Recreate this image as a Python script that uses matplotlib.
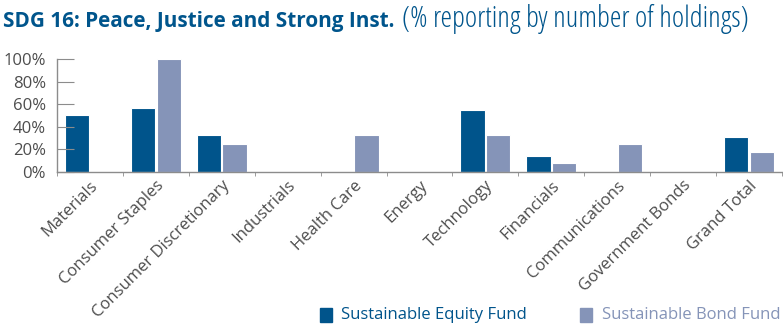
import numpy as np
import matplotlib
matplotlib.use('Agg')
from matplotlib import pyplot as plt
from matplotlib.ticker import PercentFormatter

sectors = ['Materials', 'Consumer Staples', 'Consumer Discretionary', 'Industrials',
           'Health Care', 'Energy', 'Technology', 'Financials', 'Communications',
           'Government Bonds', 'Grand Total']
equity = [50, 57, 33, 0, 0, 0, 55, 14, 0, 0, 31]
bond = [0, 100, 25, 0, 33, 0, 33, 8, 25, 0, 18]
yticks = [0, 20, 40, 60, 80, 100]

c_equity = '#00548b'
c_bond = '#8594b8'
c_text = '#4d4d4d'
c_axis = '#8c8c8c'

plt.rcParams['font.family'] = ['Open Sans', 'DejaVu Sans']

fig = plt.figure(figsize=(7.83, 3.26), dpi=100)
ax = fig.add_axes([57 / 783, 1 - 172 / 326, 725 / 783, 113 / 326])

x = np.arange(len(sectors))
w = 0.37
ax.bar(x - 0.195, equity, w, color=c_equity, edgecolor='white', linewidth=0.8, clip_on=False)
ax.bar(x + 0.195, bond, w, color=c_bond, edgecolor='white', linewidth=0.8, clip_on=False)

ax.set_xlim(-0.5, len(sectors) - 0.5)
ax.set_ylim(0, 100)
ax.set_yticks(yticks)
ax.yaxis.set_major_formatter(PercentFormatter(decimals=0))
ax.tick_params(axis='y', direction='in', length=12, width=0.8, color=c_axis,
               labelsize=12, labelcolor=c_text, pad=8)

ax.set_xticks(x)
ax.set_xticklabels(sectors, rotation=45, ha='right', rotation_mode='anchor',
                   fontsize=12, color=c_text)
ax.tick_params(axis='x', length=0, pad=4)
ax.set_xticks(np.arange(len(sectors) + 1) - 0.5, minor=True)
ax.tick_params(axis='x', which='minor', direction='out', length=3, color=c_axis)

for s in ['top', 'right']:
    ax.spines[s].set_visible(False)
for s in ['left', 'bottom']:
    ax.spines[s].set_color(c_axis)
    ax.spines[s].set_linewidth(1)

# title: condensed font, squeezed to the reference width
t1 = fig.text(3 / 783, 1 - 27 / 326, 'SDG 16: Peace, Justice and Strong Inst.', fontsize=17,
              fontweight='bold', color='#00558c', va='baseline', ha='left',
              fontstretch='condensed')
t2 = fig.text(402 / 783, 1 - 27 / 326, '(% reporting by number of holdings)', fontsize=15,
              color='#00558c', va='baseline', ha='left', fontstretch='condensed')
fig.canvas.draw()
r = fig.canvas.get_renderer()
for t, target in [(t1, 392), (t2, 348)]:
    wpx = t.get_window_extent(r).width
    t.set_fontsize(min(t.get_fontsize() * target / wpx, 24))

# legend
fig.patches.append(plt.Rectangle((320 / 783, 1 - 322 / 326), 12 / 783, 14 / 326,
                                 transform=fig.transFigure, color=c_equity))
fig.text(341 / 783, 1 - 315 / 326, 'Sustainable Equity Fund', fontsize=12,
         color=c_equity, va='center', ha='left')
fig.patches.append(plt.Rectangle((580 / 783, 1 - 322 / 326), 12 / 783, 14 / 326,
                                 transform=fig.transFigure, color=c_bond))
fig.text(602 / 783, 1 - 315 / 326, 'Sustainable Bond Fund', fontsize=12,
         color=c_bond, va='center', ha='left')

fig.savefig('out.png', dpi=100)
